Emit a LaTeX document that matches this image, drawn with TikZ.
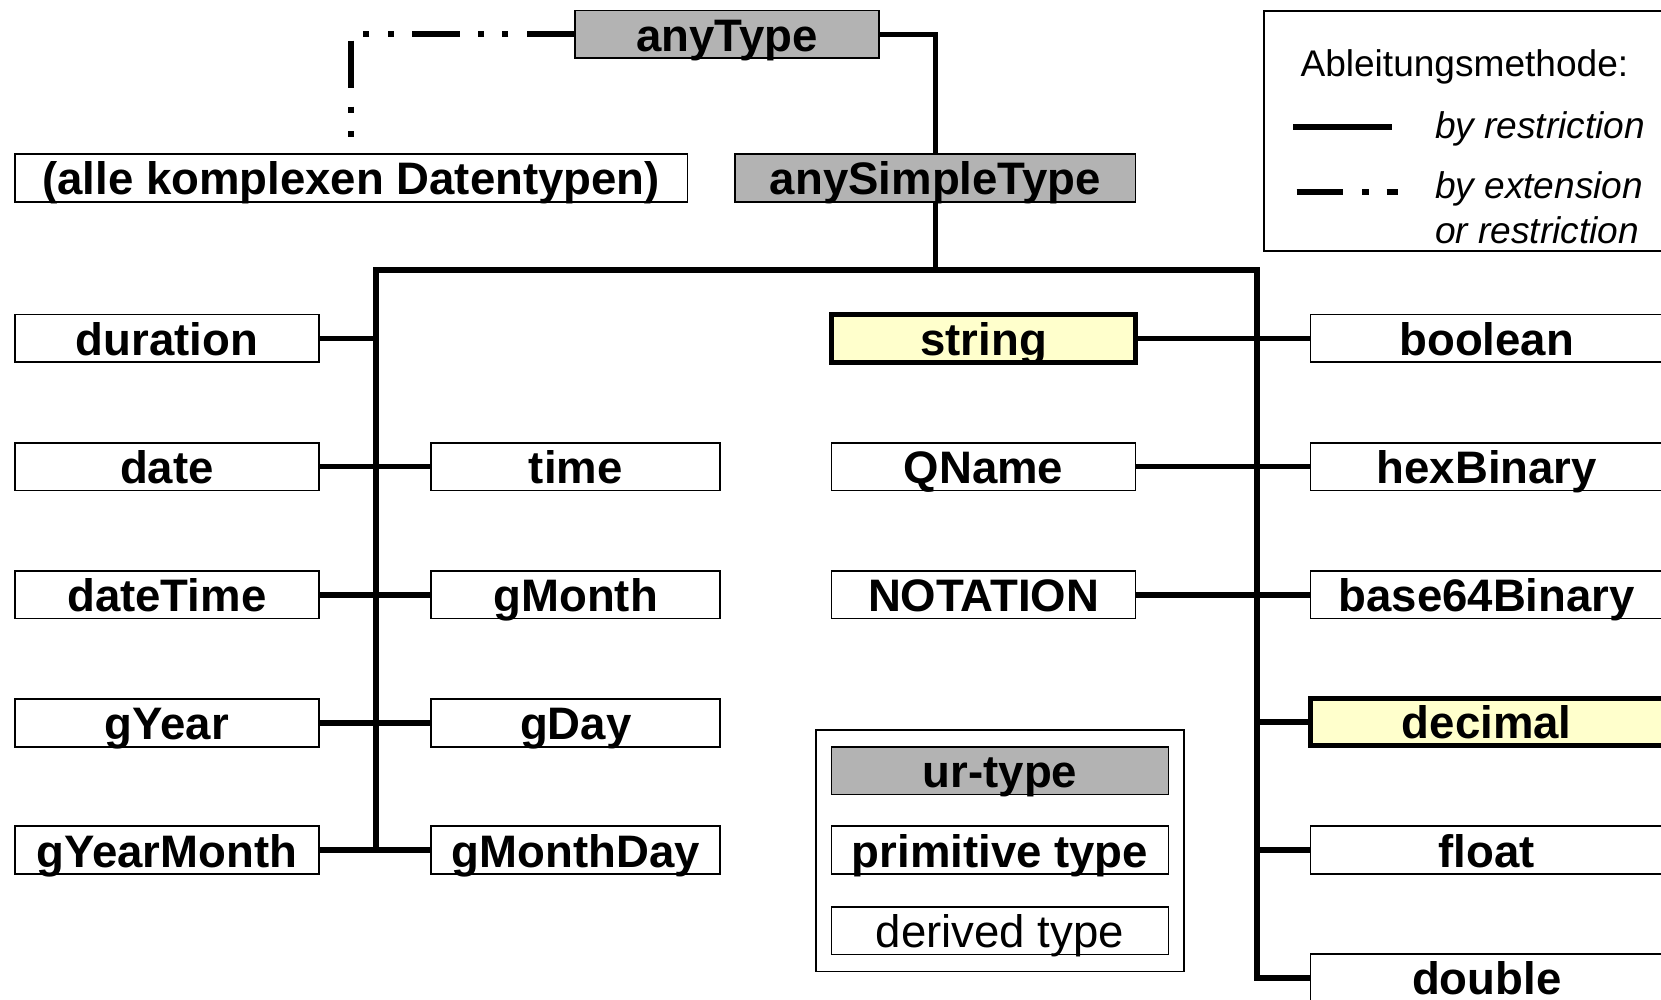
\documentclass[tikz,border=0pt]{standalone}
\usepackage{fontspec}
\setmainfont{Liberation Sans}
\definecolor{urgray}{RGB}{179,179,179}
\definecolor{primyellow}{RGB}{255,255,204}
\begin{document}
\begin{tikzpicture}[x=1pt,y=-1pt,
  tbox/.style={draw=black, line width=1.6pt, fill=white, inner xsep=0pt, inner ysep=0pt,
    minimum height=45pt, text height=38.5pt, text depth=6.5pt,
    font=\fontsize{43}{43}\selectfont\bfseries},
  urbox/.style={tbox, fill=urgray},
  primbox/.style={tbox, fill=primyellow, line width=4.7pt},
  frame/.style={draw=black, line width=1.6pt, inner sep=0pt},
  conn/.style={line width=5.4pt},
  extconn/.style={line width=5.7pt, dash pattern=on 45pt off 17.3pt on 5.7pt off 17.3pt on 5.7pt off 17.3pt},
  legtext/.style={anchor=base west, inner sep=0pt, font=\fontsize{35}{35}\selectfont},
  legit/.style={legtext, font=\fontsize{35}{35}\selectfont\itshape},
  lw/.style={minimum width=287pt},
  mw/.style={minimum width=273pt},
  rw/.style={minimum width=333pt}]
\useasboundingbox (0,0) rectangle (1568,944);

% legends (frames)
\node[frame, minimum width=390pt, minimum height=226.6pt, anchor=north west] (legA) at (1192.6,9.4) {};
\node[frame, minimum width=348pt, minimum height=228pt] (legB) at (944,803) {};

% top nodes
\node[urbox, minimum width=287pt] (anyType) at (686.5,32.5) {anyType};
\node[tbox, minimum width=635pt] (alle) at (331.5,168) {(alle komplexen Datentypen)};
\node[urbox, minimum width=378pt] (anySimple) at (883,168) {anySimpleType};

% left column
\node[tbox, lw] (duration) at (157.5,319.5) {duration};
\node[tbox, lw] (date) at (157.5,440.5) {date};
\node[tbox, lw] (dateTime) at (157.5,561.5) {dateTime};
\node[tbox, lw] (gYear) at (157.5,682.5) {gYear};
\node[tbox, lw] (gYearMonth) at (157.5,802.5) {gYearMonth};

% middle column
\node[tbox, mw] (time) at (543.5,440.5) {time};
\node[tbox, mw] (gMonth) at (543.5,561.5) {gMonth};
\node[tbox, mw] (gDay) at (543.5,682.5) {gDay};
\node[tbox, mw] (gMonthDay) at (543.5,802.5) {gMonthDay};

% string column
\node[primbox, lw] (string) at (928.5,319.5) {string};
\node[tbox, lw] (QName) at (928.5,440.5) {QName};
\node[tbox, lw] (NOTATION) at (928.5,561.5) {NOTATION};

% right column
\node[tbox, rw] (boolean) at (1403.5,319.5) {boolean};
\node[tbox, rw] (hexBinary) at (1403.5,440.5) {hexBinary};
\node[tbox, rw] (base64Binary) at (1403.5,561.5) {base64Binary};
\node[primbox, rw] (decimal) at (1403.5,681.5) {decimal};
\node[tbox, rw] (float) at (1403.5,802.5) {float};
\node[tbox, rw] (double) at (1403.5,923) {double};

% legend B content
\node[urbox, minimum width=318pt] (lur) at (944,727.5) {ur-type};
\node[tbox, minimum width=318pt] (lprim) at (944,802.5) {primitive type};
\node[tbox, minimum width=318pt, font=\fontsize{43}{43}\selectfont\mdseries] (lder) at (944,878.5) {derived type};

% legend A content
\node[legtext] (legTitle) at (1227.5,72.4) {Ableitungsmethode:};
\node[legit] (legR) at (1354.5,130.6) {by restriction};
\node[legit] (legE) at (1354.5,187.2) {by extension};
\node[legit] (legO) at (1354.5,229.7) {or restriction};
\coordinate (s1a) at (1221,120.2);
\coordinate (s1b) at (1314,120.2);
\coordinate (s2a) at (1224,181.6);
\coordinate (s2b) at (1320,181.6);
\draw[line width=5.7pt] (s1a) -- (s1b);
\draw[line width=5.7pt, dash pattern=on 44pt off 18pt on 6pt off 17pt on 11pt] (s2a) -- (s2b);

% connectors
\coordinate (c1) at (883,32.5);
\draw[conn] (anyType.east) -- (c1) -- (anySimple.north);
\draw[extconn] (anyType.west) -- (alle.north |- anyType.west) -- (alle.north);

\coordinate (busTL) at (355,255);
\coordinate (busTR) at (1186.6,255);
\coordinate (busBL) at (355,802.5);
\coordinate (busBR) at (1186.6,923);
\draw[conn] (anySimple.south) -- (anySimple.south |- busTL);
\draw[conn] (busBL) -- (busTL) -- (busTR) -- (busBR) -- (double.west);

\draw[conn] (duration.east) -- (busTL |- duration.east);
\draw[conn] (date.east) -- (time.west);
\draw[conn] (dateTime.east) -- (gMonth.west);
\draw[conn] (gYear.east) -- (gDay.west);
\draw[conn] (gYearMonth.east) -- (gMonthDay.west);

\draw[conn] (string.east) -- (boolean.west);
\draw[conn] (QName.east) -- (hexBinary.west);
\draw[conn] (NOTATION.east) -- (base64Binary.west);
\draw[conn] (busTR |- decimal.west) -- (decimal.west);
\draw[conn] (busTR |- float.west) -- (float.west);
\end{tikzpicture}
\end{document}
